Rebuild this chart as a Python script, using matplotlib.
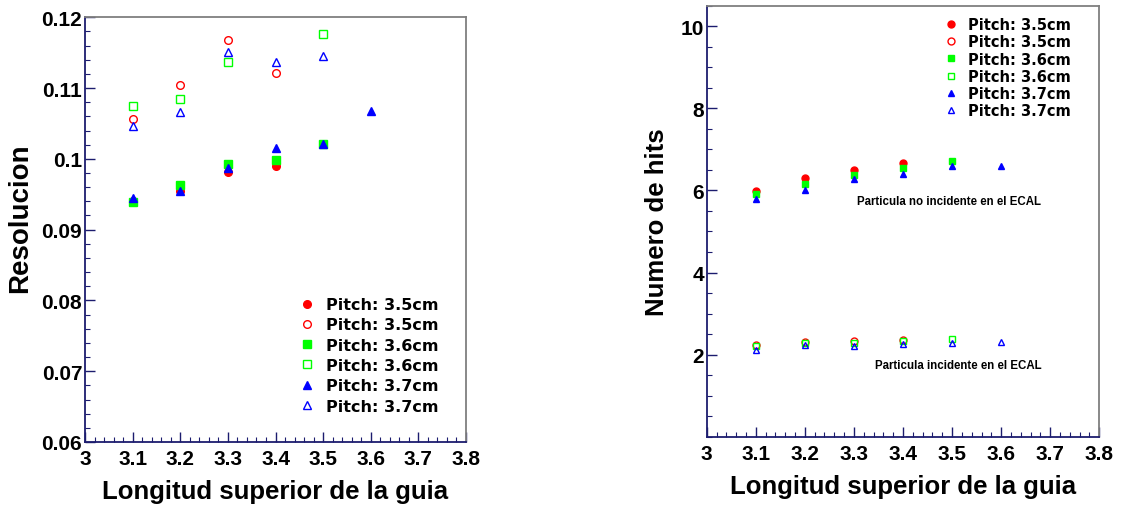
import matplotlib
matplotlib.use("Agg")
import matplotlib.pyplot as plt
from matplotlib.ticker import MultipleLocator, FuncFormatter, FixedLocator
from matplotlib.font_manager import FontProperties

# ---------------- data ----------------
legend_labels = ["Pitch: 3.5cm", "Pitch: 3.5cm", "Pitch: 3.6cm",
                 "Pitch: 3.6cm", "Pitch: 3.7cm", "Pitch: 3.7cm"]

# Left panel: Resolucion
res_x_35 = [3.1, 3.2, 3.3, 3.4]
res_x_36 = [3.1, 3.2, 3.3, 3.4, 3.5]
res_x_37 = [3.1, 3.2, 3.3, 3.4, 3.5, 3.6]
res_x_37o = [3.1, 3.2, 3.3, 3.4, 3.5]
res_35_fill = [0.0940, 0.0955, 0.0982, 0.0990]
res_35_open = [0.1056, 0.1105, 0.1168, 0.1121]
res_36_fill = [0.0939, 0.0963, 0.0993, 0.0999, 0.1021]
res_36_open = [0.1075, 0.1084, 0.1137, None, 0.1177]
res_37_fill = [0.0945, 0.0955, 0.0987, 0.1016, 0.1021, 0.1067]
res_37_open = [0.1047, 0.1066, 0.1151, 0.1137, 0.1146]

# Right panel: Numero de hits
hits_x_35 = [3.1, 3.2, 3.3, 3.4]
hits_x_36 = [3.1, 3.2, 3.3, 3.4, 3.5]
hits_x_37 = [3.1, 3.2, 3.3, 3.4, 3.5, 3.6]
hits_35_fill = [5.98, 6.31, 6.49, 6.66]
hits_35_open = [2.24, 2.31, 2.34, 2.36]
hits_36_fill = [5.92, 6.15, 6.37, 6.55, 6.72]
hits_36_open = [2.21, 2.28, 2.28, 2.34, 2.37]
hits_37_fill = [5.78, 6.02, 6.29, 6.41, 6.59, 6.60]
hits_37_open = [2.12, 2.23, 2.21, 2.27, 2.28, 2.31]

x_ticks = [3.0, 3.1, 3.2, 3.3, 3.4, 3.5, 3.6, 3.7, 3.8]
res_ticks = [0.06, 0.07, 0.08, 0.09, 0.10, 0.11, 0.12]
hits_ticks = [2, 4, 6, 8, 10]

xlabel = "Longitud superior de la guia"
ylabel_left = "Resolucion"
ylabel_right = "Numero de hits"
note_upper = "Particula no incidente en el ECAL"
note_lower = "Particula incidente en el ECAL"

# ---------------- style ----------------
RED, GREEN, BLUE = "#ff0000", "#00ff00", "#0000ff"
NAVY = "#1c1c6e"
GRAY = "#7f7f7f"
TICKFONT = dict(family="Liberation Sans", weight="bold", size=15)
LABELFONT = dict(family="Liberation Sans", weight="bold", size=18.5)

fig = plt.figure(figsize=(11.3, 5.06), dpi=100)
axL = fig.add_axes([85 / 1130, (506 - 443) / 506, 381 / 1130, 424.7 / 506])
axR = fig.add_axes([706.7 / 1130, (506 - 437.7) / 506, 392.6 / 1130, 431 / 506])


def clean(xs, ys):
    pts = [(a, b) for a, b in zip(xs, ys) if b is not None]
    return [p[0] for p in pts], [p[1] for p in pts]


def draw_series(ax, series, ms):
    handles = []
    for xs, ys, marker, color, filled in series:
        xx, yy = clean(xs, ys)
        h, = ax.plot(xx, yy, linestyle="none", marker=marker, markersize=ms,
                     markerfacecolor=color if filled else "none",
                     markeredgecolor=color, markeredgewidth=1.0)
        handles.append(h)
    return handles


def style_axes(ax):
    for side in ("left", "bottom"):
        ax.spines[side].set_color(NAVY)
        ax.spines[side].set_linewidth(1.3)
    for side in ("top", "right"):
        ax.spines[side].set_color(GRAY)
        ax.spines[side].set_linewidth(1.3)
    ax.tick_params(which="both", direction="in", color=NAVY, top=False, right=False)
    ax.tick_params(which="major", length=7, width=1.0, pad=2)
    ax.tick_params(axis="x", which="major", pad=5)
    ax.tick_params(which="minor", length=3.5, width=0.8)
    ax.set_xlim(3.0, 3.8)
    ax.xaxis.set_major_locator(FixedLocator(x_ticks))
    ax.xaxis.set_minor_locator(MultipleLocator(0.02))
    ax.xaxis.set_major_formatter(FuncFormatter(lambda v, p: "%g" % round(v, 3)))
    for lab in ax.get_xticklabels() + ax.get_yticklabels():
        lab.set_fontproperties(FontProperties(**TICKFONT))
    ax.set_xlabel(xlabel, fontdict=LABELFONT, labelpad=8)


# Left panel
hL = draw_series(axL, [
    (res_x_35, res_35_fill, "o", RED, True),
    (res_x_35, res_35_open, "o", RED, False),
    (res_x_36, res_36_fill, "s", GREEN, True),
    (res_x_36, res_36_open, "s", GREEN, False),
    (res_x_37, res_37_fill, "^", BLUE, True),
    (res_x_37o, res_37_open, "^", BLUE, False),
], ms=5.5)
axL.set_ylim(0.06, 0.12)
axL.yaxis.set_major_locator(FixedLocator(res_ticks))
axL.yaxis.set_minor_locator(MultipleLocator(0.002))
axL.yaxis.set_major_formatter(FuncFormatter(lambda v, p: "%g" % round(v, 4)))
style_axes(axL)
axL.set_ylabel(ylabel_left, fontdict=dict(family="Liberation Sans", weight="bold", size=20))
axL.yaxis.set_label_coords(-0.136, 0.53)
legL = axL.legend(hL, legend_labels, loc="upper left", bbox_to_anchor=(0.549, 0.356),
                  frameon=False, handlelength=0.8, handletextpad=0.8, labelspacing=0.33,
                  borderaxespad=0, prop=dict(family="DejaVu Sans", weight="bold", size=11.5))

# Right panel
hR = draw_series(axR, [
    (hits_x_35, hits_35_fill, "o", RED, True),
    (hits_x_35, hits_35_open, "o", RED, False),
    (hits_x_36, hits_36_fill, "s", GREEN, True),
    (hits_x_36, hits_36_open, "s", GREEN, False),
    (hits_x_37, hits_37_fill, "^", BLUE, True),
    (hits_x_37, hits_37_open, "^", BLUE, False),
], ms=5)
axR.set_ylim(0, 10.5)
axR.yaxis.set_major_locator(FixedLocator(hits_ticks))
axR.yaxis.set_minor_locator(MultipleLocator(0.5))
axR.yaxis.set_major_formatter(FuncFormatter(lambda v, p: "%g" % v))
style_axes(axR)
axR.set_ylabel(ylabel_right, fontdict=LABELFONT, labelpad=8)
legR = axR.legend(hR, legend_labels, loc="upper left", bbox_to_anchor=(0.5925, 0.987),
                  frameon=False, handlelength=0.8, handletextpad=0.8, labelspacing=0.15,
                  borderaxespad=0, prop=dict(family="DejaVu Sans", weight="bold", size=10.5))

axR.text(3.494, 5.75, note_upper, ha="center", va="center",
         fontdict=dict(family="Liberation Sans", weight="bold", size=8.3))
axR.text(3.512, 1.75, note_lower, ha="center", va="center",
         fontdict=dict(family="Liberation Sans", weight="bold", size=8.3))

fig.savefig("out.png", dpi=100)
